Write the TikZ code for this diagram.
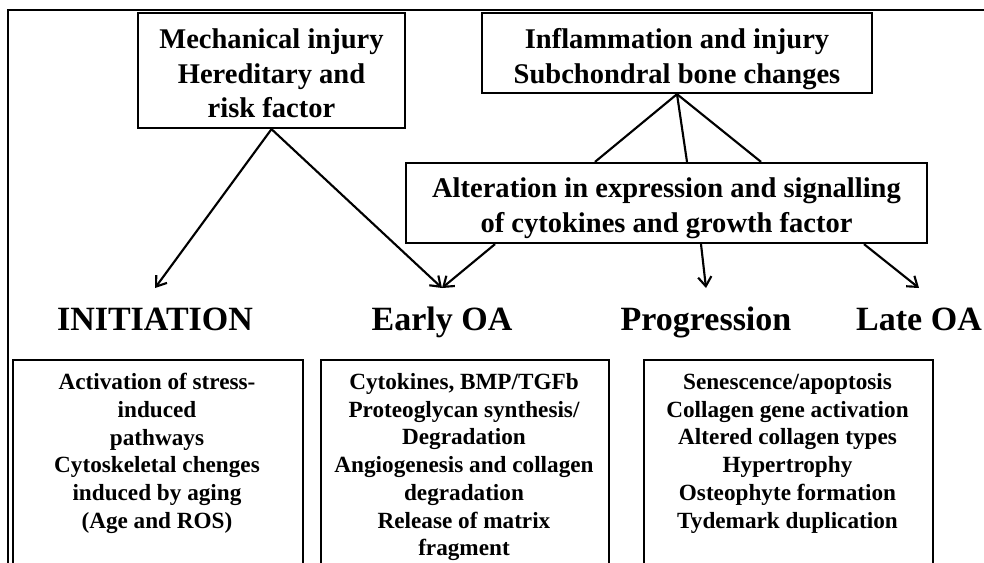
\documentclass[tikz,border=0pt]{standalone}
\usepackage{fontspec}
\setmainfont{Liberation Serif}
\usetikzlibrary{arrows.meta}
\newdimen\pxu
\pxu=0.75pt
\begin{document}
\begin{tikzpicture}[x=0.75pt,y=-0.75pt,
  frame/.style={line width=1.7pt},
  bx/.style={draw, line width=1.7pt, inner sep=0pt},
  toptxt/.style={anchor=north, align=center, inner sep=0pt, font=\bfseries\fontsize{21.4pt}{25.9pt}\selectfont},
  bottxt/.style={anchor=north, align=center, inner sep=0pt, font=\bfseries\fontsize{17.4pt}{20.8pt}\selectfont},
  stage/.style={anchor=base, inner xsep=0pt, inner ysep=0pt, outer xsep=0pt, outer ysep=19\pxu, text height=23\pxu, text depth=0pt, font=\bfseries\fontsize{25.5pt}{30pt}\selectfont},
  conn/.style={line width=1.6pt},
  arr/.style={conn, -{Straight Barb[length=7pt,width=10pt]}}]
\path[use as bounding box] (0,0) rectangle (984,562);
\clip (0,0) rectangle (984,562);
\fill[white] (0,0) rectangle (984,562);
% outer frame (cropped at right and bottom)
\draw[frame] (8,600) -- (8,10) -- (1000,10);
% top boxes
\node[bx, minimum width=267\pxu, minimum height=115\pxu] (inj) at (271.5,70.5) {};
\node[toptxt] (injt) at (271.5,28.5) {Mechanical injury\\Hereditary and\\risk factor};
\node[bx, minimum width=390\pxu, minimum height=80\pxu] (infl) at (677,53) {};
\node[toptxt] (inflt) at (677,28.5) {Inflammation and injury\\Subchondral bone changes};
\node[bx, minimum width=521\pxu, minimum height=80\pxu] (alt) at (666.5,203) {};
\node[toptxt] (altt) at (666.5,177.5) {Alteration in expression and signalling\\of cytokines and growth factor};
% stage labels
\node[stage] (ini) at (155,330) {INITIATION};
\node[stage] (early) at (442,330) {Early OA};
\node[stage] (prog) at (706,330) {Progression};
\node[stage] (late) at (919,330) {Late OA};
% bottom boxes
\node[bx, minimum width=290\pxu, minimum height=240\pxu, anchor=north west] (boxA) at (12,359) {};
\node[bx, minimum width=288\pxu, minimum height=240\pxu, anchor=north west] (boxB) at (320,359) {};
\node[bx, minimum width=289\pxu, minimum height=240\pxu, anchor=north west] (boxC) at (643,359) {};
\node[bottxt] (txtA) at (157,373) {Activation of stress-\\induced\\pathways\\Cytoskeletal chenges\\induced by aging\\(Age and ROS)};
\node[bottxt] (txtB) at (464,373) {Cytokines, BMP/TGFb\\Proteoglycan synthesis/\\Degradation\\Angiogenesis and collagen\\degradation\\Release of matrix\\fragment};
\node[bottxt] (txtC) at (787.5,373) {Senescence/apoptosis\\Collagen gene activation\\Altered collagen types\\Hypertrophy\\Osteophyte formation\\Tydemark duplication};
% connectors
\draw[conn] (infl.south) -- ([xshift=-71.5\pxu]alt.north);
\draw[conn] (infl.south) -- ([xshift=20.5\pxu]alt.north);
\draw[conn] (infl.south) -- ([xshift=94.5\pxu]alt.north);
\draw[arr] (inj.south) -- (ini.north);
\draw[arr] (inj.south) -- (early.north);
\draw[arr] ([xshift=-171.5\pxu]alt.south) -- (early.north);
\draw[arr] ([xshift=34.5\pxu]alt.south) -- (prog.north);
\draw[arr] ([xshift=197.5\pxu]alt.south) -- (late.north);
\end{tikzpicture}
\end{document}
